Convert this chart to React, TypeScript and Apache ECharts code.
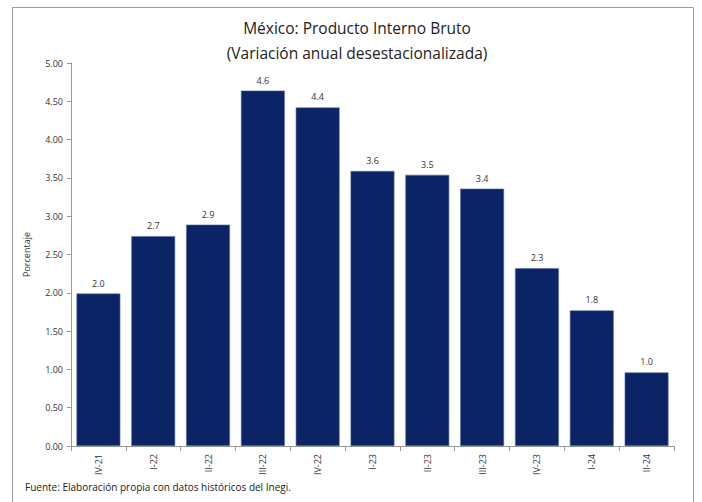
import React, { useEffect, useRef } from "react";
import * as echarts from "echarts";

const titleLines = ["México: Producto Interno Bruto", "(Variación anual desestacionalizada)"];
const categories = ["IV-21", "I-22", "II-22", "III-22", "IV-22", "I-23", "II-23", "III-23", "IV-23", "I-24", "II-24"];
const values = [1.99, 2.74, 2.89, 4.64, 4.42, 3.59, 3.54, 3.36, 2.32, 1.77, 0.96];
const yAxisName = "Porcentaje";
const sourceNote = "Fuente: Elaboración propia con datos históricos del Inegi.";

const FONT = "'Open Sans', 'Noto Sans', sans-serif";

export default function App() {
  const ref = useRef<HTMLDivElement>(null);
  useEffect(() => {
    if (!ref.current) return;
    const chart = echarts.init(ref.current, null, { renderer: "svg" });
    chart.setOption({
      animation: false,
      backgroundColor: "#ffffff",
      textStyle: { fontFamily: FONT },
      title: {
        text: titleLines.join("\n"),
        left: 352,
        textAlign: "center",
        top: 10,
        textStyle: { fontFamily: FONT, fontSize: 15.5, fontWeight: "normal", color: "#222", lineHeight: 25 },
      },
      graphic: [
        {
          type: "rect",
          shape: { x: 12.5, y: 7.5, width: 681, height: 520 },
          style: { fill: "none", stroke: "#9a9a9a", lineWidth: 1 },
          silent: true,
        },
        {
          type: "text",
          left: 25,
          top: 482,
          style: { text: sourceNote, fontFamily: FONT, fontSize: 10, fill: "#222" },
        },
      ],
      grid: { left: 71, right: 28, top: 63, bottom: 56 },
      xAxis: {
        type: "category",
        data: categories,
        axisLine: { lineStyle: { color: "#9a9a9a" } },
        axisTick: { show: true, length: 5, lineStyle: { color: "#9a9a9a" } },
        axisLabel: { rotate: 90, fontSize: 9, color: "#333", fontFamily: FONT, margin: 8 },
      },
      yAxis: {
        type: "value",
        min: 0,
        max: 5,
        interval: 0.5,
        name: yAxisName,
        nameLocation: "middle",
        nameRotate: 90,
        nameGap: 40,
        nameTextStyle: { fontSize: 9, color: "#333", fontFamily: FONT },
        axisLine: { show: true, lineStyle: { color: "#9a9a9a" } },
        axisTick: { show: true, length: 4, lineStyle: { color: "#9a9a9a" } },
        splitLine: { show: false },
        axisLabel: {
          fontSize: 9,
          color: "#333",
          fontFamily: FONT,
          margin: 8,
          formatter: (v: number) => v.toFixed(2),
        },
      },
      series: [
        {
          type: "bar",
          data: values,
          barCategoryGap: "20%",
          itemStyle: { color: "#0b2466", borderColor: "#5a6fa8", borderWidth: 0.6 },
          label: {
            show: true,
            position: "top",
            distance: 6,
            fontSize: 9,
            color: "#333333",
            fontFamily: FONT,
            formatter: (p: any) => Number(p.value).toFixed(1),
          },
        },
      ],
    });
    return () => chart.dispose();
  }, []);
  return <div ref={ref} style={{ position: "fixed", left: 0, top: 0, width: 702, height: 502 }} />;
}
